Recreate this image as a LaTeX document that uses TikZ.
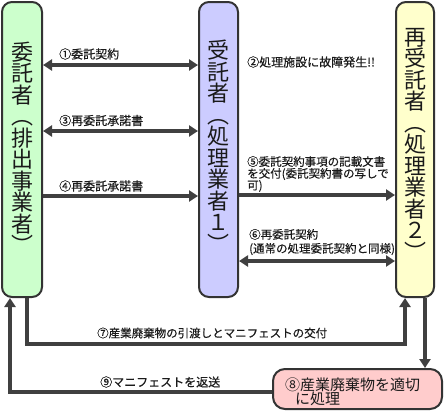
\documentclass[tikz,border=0pt]{standalone}
\usepackage{fontspec}
\newfontfamily\jp{Noto Sans CJK JP}
\newfontfamily\jpl{Noto Sans CJK JP}[FakeBold=0.4]
\usetikzlibrary{arrows.meta}
\definecolor{gfill}{HTML}{CCFFCC}
\definecolor{bfill}{HTML}{CCCCFF}
\definecolor{yfill}{HTML}{FFFFCC}
\definecolor{pfill}{HTML}{FFCCCC}
\definecolor{boxc}{HTML}{333333}
\definecolor{linec}{HTML}{404040}
\definecolor{txt}{HTML}{1A1A1A}
\begin{document}
\begin{tikzpicture}[x=1pt,y=-1pt,
  box/.style={draw=boxc, line width=2pt, rounded corners=10pt, inner sep=0pt},
  vtext/.style={font=\jp\fontsize{22}{21.5}\selectfont, align=center, text=txt, inner sep=0pt},
  lbl/.style={font=\jpl\fontsize{12}{12}\selectfont, anchor=west, inner sep=0pt, text=txt, align=left},
  conn/.style={draw=linec, line width=4pt, -{Triangle[length=9pt,width=11pt]}},
  dconn/.style={draw=linec, line width=4pt, {Triangle[length=9pt,width=11pt]}-{Triangle[length=9pt,width=11pt]}}
]
\useasboundingbox (0,0) rectangle (444,413);
% boxes
\node[box, fill=gfill, minimum width=40pt, minimum height=295pt] (L) at (22,149.5) {};
\node[box, fill=bfill, minimum width=39pt, minimum height=295pt] (M) at (218.5,149.5) {};
\node[box, fill=yfill, minimum width=38pt, minimum height=295pt] (R) at (415,149.5) {};
\node[box, fill=pfill, minimum width=169pt, minimum height=40pt, rounded corners=12pt] (P) at (357.5,389) {};
% vertical titles
\node[vtext] (Lt) at (22,148) {委\\託\\者\\︵\\排\\出\\事\\業\\者\\︶};
\node[vtext] (Mt) at (218.5,146) {受\\託\\者\\︵\\処\\理\\業\\者\\１\\︶};
\node[vtext] (Rt) at (415,144) {再\\受\\託\\者\\︵\\処\\理\\業\\者\\２\\︶};
% labels
\node[lbl] (t1) at (59,54) {①委託契約};
\node[lbl] (t3) at (59,120.5) {③再委託承諾書};
\node[lbl] (t4) at (59,186) {④再委託承諾書};
\node[lbl] (t2) at (247,62) {②処理施設に故障発生!!};
\node[lbl, font=\jpl\fontsize{11.5}{11.8}\selectfont] (t5) at (247,174) {⑤委託契約事項の記載文書\\を交付(委託契約書の写しで\\可)};
\node[lbl, font=\jpl\fontsize{11.5}{14}\selectfont] (t6) at (249,242) {⑥再委託契約\\(通常の処理委託契約と同様)};
\node[lbl, font=\jpl\fontsize{11.5}{12}\selectfont] (t7) at (97,333) {⑦産業廃棄物の引渡しとマニフェストの交付};
\node[lbl] (t9) at (100,382) {⑨マニフェストを返送};
\node[lbl, font=\jp\fontsize{15}{14}\selectfont] (t8) at (285,391.5) {⑧産業廃棄物を適切\\\hspace*{10pt}に処理};
% connectors
\draw[dconn] (L.east |- 0,65) -- (M.west |- 0,65);
\draw[dconn] (L.east |- 0,131) -- (M.west |- 0,131);
\draw[conn] (L.east |- 0,196) -- (M.west |- 0,196);
\draw[conn] (M.east |- 0,195) -- (R.west |- 0,195);
\draw[dconn] (M.east |- 0,261) -- (R.west |- 0,261);
\draw[conn] (L.south -| 27,0) -- ++(0,46) -| (R.south -| 405,0);
\draw[conn] (R.south -| 425,0) -- (P.north -| 425,0);
\draw[conn] (P.west |- 0,392) -| (L.south -| 10,0);
\end{tikzpicture}
\end{document}
